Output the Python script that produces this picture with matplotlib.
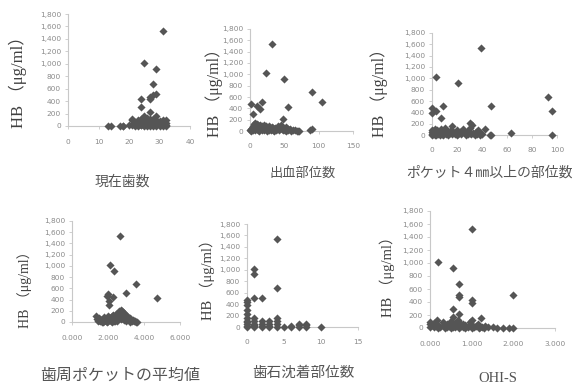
import matplotlib
matplotlib.use("Agg")
import matplotlib.pyplot as plt
from matplotlib.ticker import FuncFormatter

# 現在歯数
teeth_x = [13, 14, 17, 18, 18, 20, 21, 21, 22, 22, 22, 23, 23, 23, 23, 24, 24, 24, 24, 24,
           25, 25, 25, 25, 25, 25, 26, 26, 26, 26, 26, 26, 26, 27, 27, 27, 27, 27, 27, 27,
           28, 28, 28, 28, 28, 28, 28, 29, 29, 29, 29, 29, 29, 30, 30, 30, 30, 30, 30,
           31, 31, 31, 31, 31, 32, 32, 32, 32,
           24, 24, 25, 29, 28, 31, 27, 28, 29, 27, 27, 25, 29, 21]
teeth_y = [5, 0, 5, 0, 8, 10, 100, 20, 5, 40, 70, 0, 30, 60, 90, 10, 45, 80, 20, 110,
           0, 35, 70, 15, 55, 95, 5, 25, 50, 75, 100, 130, 10, 0, 40, 65, 90, 20, 115, 55,
           5, 30, 60, 85, 120, 15, 45, 0, 35, 70, 100, 20, 50, 10, 40, 75, 0, 25, 60,
           5, 30, 55, 90, 15, 0, 45, 100, 20,
           430, 300, 1020, 920, 680, 1530, 470, 500, 520, 440, 220, 160, 160, 108]

# 出血部位数
bleed_x = [0, 1, 2, 3, 4, 5, 5, 6, 7, 8, 8, 9, 10, 10, 11, 12, 12, 13, 14, 15, 15, 16, 17, 18, 19,
           20, 20, 21, 22, 23, 24, 25, 26, 27, 28, 29, 30, 31, 32, 33, 34, 35, 36, 37, 38,
           40, 41, 42, 44, 45, 46, 47, 48, 50, 51, 52, 53, 55, 56, 58, 60, 62, 65, 68, 70, 72, 87, 90,
           32, 23, 49, 91, 105, 56, 18, 2, 10, 15, 5, 48]
bleed_y = [10, 40, 0, 60, 20, 80, 30, 120, 50, 150, 10, 90, 40, 130, 20, 60, 100, 0, 70, 30, 110, 50, 80, 20, 60,
           10, 100, 40, 70, 30, 90, 0, 50, 80, 20, 60, 10, 40, 70, 20, 50, 0, 30, 60, 10,
           40, 80, 20, 50, 100, 30, 60, 10, 40, 20, 70, 0, 30, 10, 40, 0, 20, 10, 0, 5, 0, 10, 30,
           1530, 1020, 920, 680, 510, 430, 510, 470, 440, 380, 300, 210]

# ポケット4mm以上の部位数
pocket_x = [0, 0, 0, 0, 1, 1, 1, 2, 2, 2, 3, 3, 3, 4, 4, 5, 5, 6, 6, 7, 7, 8, 8, 9, 10, 10, 11, 12, 12,
            13, 14, 15, 16, 16, 17, 18, 19, 20, 20, 21, 22, 23, 24, 25, 26, 27, 28, 29, 30, 30,
            31, 32, 33, 34, 35, 36, 37, 38, 40, 42, 46,
            39, 3, 21, 93, 96, 47, 9, 0, 3, 0, 7, 30, 63, 96, 38, 47]
pocket_y = [0, 20, 50, 90, 10, 40, 70, 0, 30, 100, 20, 60, 5, 40, 80, 10, 50, 0, 30, 60, 100, 20, 40, 0, 50, 120, 10, 30, 70,
            0, 40, 90, 20, 160, 50, 10, 30, 0, 80, 20, 50, 10, 60, 100, 30, 0, 50, 20, 120, 40,
            10, 180, 30, 0, 60, 20, 80, 40, 10, 100, 0,
            1530, 1020, 920, 670, 430, 510, 510, 470, 430, 390, 300, 220, 40, 0, 0, 0]

# 歯周ポケットの平均値
depth_x = [1.35, 1.4, 1.45, 1.5, 1.55, 1.6, 1.65, 1.7, 1.75, 1.8, 1.85, 1.9, 1.95, 2.0, 2.05, 2.1,
           2.15, 2.2, 2.25, 2.3, 2.35, 2.4, 2.45, 2.5, 2.55, 2.6, 2.65, 2.7, 2.75, 2.8, 2.85, 2.9,
           2.95, 3.0, 3.05, 3.1, 3.15, 3.2, 3.25, 3.3, 3.35, 3.4, 3.45, 3.5, 3.55, 3.6,
           1.5, 1.7, 1.9, 2.0, 2.1, 2.2, 2.3, 2.4, 2.5, 2.6, 2.7, 2.8, 2.9, 3.0, 3.2,
           2.65, 2.13, 2.33, 3.57, 4.74, 3.02, 2.0, 1.97, 2.28, 2.04, 2.04]
depth_y = [100, 60, 20, 80, 10, 40, 0, 50, 20, 90, 30, 60, 0, 100, 40, 70,
           10, 110, 50, 120, 20, 80, 140, 60, 160, 200, 180, 220, 150, 190, 130, 160,
           100, 120, 80, 90, 50, 70, 30, 40, 20, 30, 10, 20, 5, 0,
           30, 0, 20, 10, 30, 0, 60, 20, 10, 100, 50, 80, 40, 10, 0,
           1530, 1020, 910, 680, 430, 510, 500, 460, 440, 375, 300]

# 歯石沈着部位数
calc_x = [0] * 11 + [1] * 9 + [2] * 5 + [3] * 4 + [4] * 6 + [5, 6, 6, 7, 7, 7, 8, 8, 8, 10]
calc_y = [0, 20, 50, 80, 100, 150, 230, 300, 380, 430, 470,
          0, 10, 30, 60, 100, 150, 510, 920, 1020,
          0, 20, 50, 100, 510,
          0, 20, 50, 100,
          0, 50, 100, 150, 680, 1530,
          0, 0, 10, 0, 30, 50, 0, 30, 60, 0]

# OHI-S
ohi_x = [0.0, 0.0, 0.0, 0.05, 0.1, 0.1, 0.15, 0.17, 0.2, 0.2, 0.25, 0.3, 0.33, 0.35, 0.4, 0.4, 0.45,
         0.5, 0.5, 0.5, 0.55, 0.6, 0.6, 0.65, 0.67, 0.7, 0.7, 0.75, 0.8, 0.8, 0.83, 0.85, 0.9, 0.95,
         1.0, 1.0, 1.0, 1.05, 1.1, 1.15, 1.17, 1.2, 1.25, 1.3, 1.33, 1.4, 1.5, 1.6, 1.75, 1.9, 2.0,
         1.0, 0.2, 0.55, 0.7, 0.7, 0.7, 1.0, 1.0, 2.0, 0.55, 0.7, 0.55, 1.22]
ohi_y = [20, 60, 100, 40, 10, 80, 30, 120, 0, 50, 20, 100, 40, 0, 60, 10, 30,
         110, 50, 0, 20, 70, 10, 40, 120, 100, 0, 30, 60, 10, 40, 0, 20, 100,
         0, 50, 120, 10, 30, 60, 0, 20, 10, 0, 30, 20, 10, 0, 0, 0, 0,
         1530, 1020, 920, 680, 510, 480, 430, 390, 510, 290, 215, 170, 160]

W, H = 581, 385
fig = plt.figure(figsize=(W / 100, H / 100), dpi=100)

yticks = list(range(0, 1801, 200))
cjk = ['Noto Sans CJK JP', 'DejaVu Sans']
serif = ['Liberation Serif', 'Noto Sans CJK JP']


def panel(x, y, box, xmax, xstep, xfmt, xlabel, xlab_pos, ylab_pos, ylab_size, xlab_size, xfamily=cjk):
    x0, x1, y0, y1 = box
    ax = fig.add_axes([x0 / W, (H - y0) / H, (x1 - x0) / W, (y0 - y1) / H])
    ax.scatter(x, y, marker='D', s=17, color='#555555', linewidths=0, clip_on=False, zorder=3)
    ax.set_xlim(0, xmax)
    ax.set_ylim(0, 1800)
    ax.set_yticks(yticks)
    ticks = [i * xstep for i in range(int(round(xmax / xstep)) + 1)]
    ax.set_xticks(ticks)
    ax.yaxis.set_major_formatter(FuncFormatter(lambda v, p: f'{v:,.0f}'))
    ax.xaxis.set_major_formatter(FuncFormatter(xfmt))
    for s in ['top', 'right']:
        ax.spines[s].set_visible(False)
    for s in ['left', 'bottom']:
        ax.spines[s].set_color('#c8c8c8')
        ax.spines[s].set_linewidth(0.8)
    ax.tick_params(axis='y', length=2, width=0.6, color='#c8c8c8', labelsize=5.3,
                   labelcolor='#8a8a8a', pad=3)
    ax.tick_params(axis='x', length=2, width=0.6, color='#c8c8c8', labelsize=5.3,
                   labelcolor='#8a8a8a', pad=7)
    ax.set_facecolor('none')
    fig.text(xlab_pos[0] / W, 1 - xlab_pos[1] / H, xlabel, ha='center', va='center',
             fontsize=xlab_size, color='#555555', family=xfamily)
    fig.text(ylab_pos[0] / W, 1 - ylab_pos[1] / H, 'HB （μg/ml）', ha='center', va='center',
             rotation=90, fontsize=ylab_size, color='#404040', family=serif)
    return ax


int_fmt = lambda v, p: f'{v:.0f}'
dec_fmt = lambda v, p: f'{v:.3f}'

panel(teeth_x, teeth_y, (68, 190, 126, 14), 40, 10, int_fmt, '現在歯数', (122, 182), (18, 78), 12, 10)
panel(bleed_x, bleed_y, (250, 353, 131, 29), 150, 50, int_fmt, '出血部位数', (303, 173), (214, 89), 11.5, 9.5)
panel(pocket_x, pocket_y, (432, 557, 135, 33), 100, 20, int_fmt, 'ポケット４㎜以上の部位数', (489, 173), (379, 89), 11.5, 10)
panel(depth_x, depth_y, (72, 180, 322, 221), 6, 2, dec_fmt, '歯周ポケットの平均値', (120, 375), (25, 286), 10, 11.5)
panel(calc_x, calc_y, (247, 358, 327, 224), 15, 5, int_fmt, '歯石沈着部位数', (303, 373), (207, 276), 10.5, 10.5)
panel(ohi_x, ohi_y, (430, 555, 328, 211), 3, 1, dec_fmt, 'OHI-S', (498, 378), (387, 273), 10.5, 10.5, serif)

fig.savefig('out.png', dpi=100)
